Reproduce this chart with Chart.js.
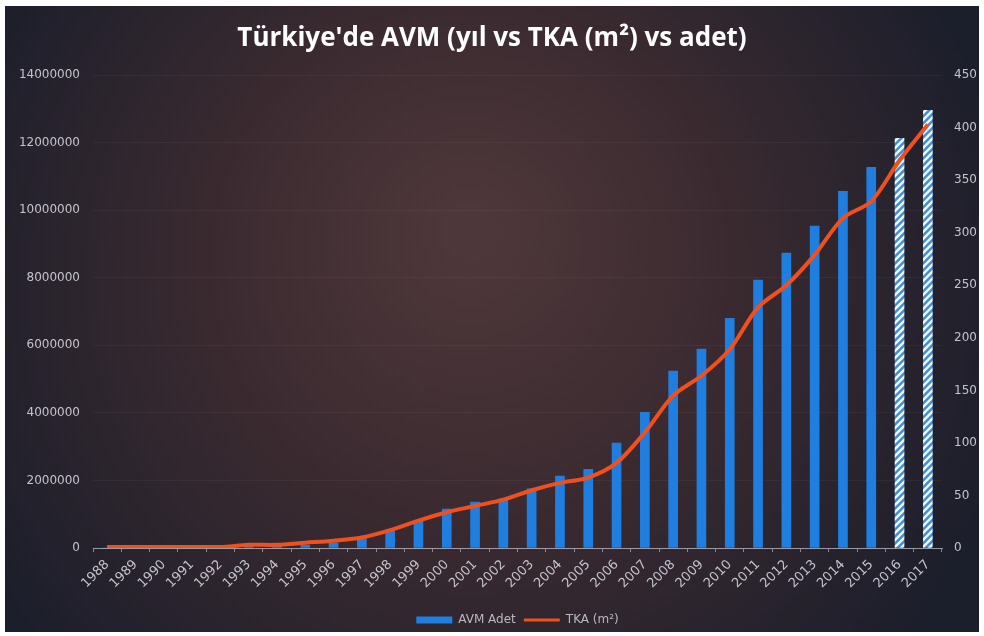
<!DOCTYPE html>
<html lang="tr">
<head>
  <meta charset="UTF-8">
  <title>Türkiye'de AVM</title>
  <script src="https://cdn.jsdelivr.net/npm/chart.js"></script>
  <style>
    html, body {
      margin: 0;
      padding: 0;
      background: #ffffff;
    }
    #wrap {
      width: 984px;
      height: 636px;
    }
  </style>
</head>
<body>

<div id="wrap">
  <canvas id="avmChart" width="984" height="636"></canvas>
</div>

<script>
const years = ["1988", "1989", "1990", "1991", "1992", "1993", "1994", "1995", "1996", "1997",
  "1998", "1999", "2000", "2001", "2002", "2003", "2004", "2005", "2006", "2007",
  "2008", "2009", "2010", "2011", "2012", "2013", "2014", "2015", "2016", "2017"];

// bars, left axis
const avmAdet = [0, 0, 0, 0, 10000, 60000, 80000, 90000, 150000, 330000,
  500000, 830000, 1150000, 1360000, 1450000, 1750000, 2130000, 2330000, 3110000, 4020000,
  5240000, 5890000, 6800000, 7930000, 8730000, 9530000, 10560000, 11270000, 12130000, 12960000];

// line, right axis
const tka = [1, 1, 1, 1, 1, 3, 3, 5, 7, 10,
  17, 26, 34, 40, 46, 55, 62, 67, 81, 110,
  145, 164, 189, 229, 250, 279, 314, 330, 369, 403];

const leftTicks = [0, 2000000, 4000000, 6000000, 8000000, 10000000, 12000000, 14000000];
const rightTicks = [0, 50, 100, 150, 200, 250, 300, 350, 400, 450];

// hatched fill for the last two years
function hatch() {
  const c = document.createElement("canvas");
  c.width = 7;
  c.height = 7;
  const g = c.getContext("2d");
  g.fillStyle = "#3d8fdc";
  g.fillRect(0, 0, 7, 7);
  g.strokeStyle = "#f2f6fa";
  g.lineWidth = 2.5;
  g.beginPath();
  g.moveTo(-1, 8); g.lineTo(8, -1);
  g.moveTo(-4, 4); g.lineTo(4, -4);
  g.moveTo(3, 11); g.lineTo(11, 3);
  g.stroke();
  return g.createPattern(c, "repeat");
}
const stripes = hatch();
const barColors = years.map((y, i) => i >= years.length - 2 ? stripes : "#1f7fe0");

const panel = {
  id: "panel",
  beforeDraw(chart) {
    const ctx = chart.ctx;
    ctx.save();
    ctx.fillStyle = "#ffffff";
    ctx.fillRect(0, 0, chart.width, chart.height);
    const grd = ctx.createRadialGradient(470, 230, 20, 470, 300, 560);
    grd.addColorStop(0, "#4e373a");
    grd.addColorStop(0.45, "#3a2a30");
    grd.addColorStop(1, "#1b1e2b");
    ctx.fillStyle = grd;
    ctx.fillRect(5, 6, chart.width - 10, chart.height - 10);
    ctx.restore();
  }
};

const tickFont = { family: "DejaVu Sans", size: 12 };

new Chart(document.getElementById("avmChart"), {
  data: {
    labels: years,
    datasets: [
      {
        type: "line",
        label: "TKA (m²)",
        data: tka,
        yAxisID: "yR",
        borderColor: "#f0501e",
        backgroundColor: "#f0501e",
        borderWidth: 4,
        pointRadius: 0,
        tension: 0.3,
        order: 0
      },
      {
        type: "bar",
        label: "AVM Adet",
        data: avmAdet,
        yAxisID: "yL",
        backgroundColor: barColors,
        barThickness: 9,
        order: 1
      }
    ]
  },
  plugins: [panel],
  options: {
    responsive: false,
    animation: false,
    layout: { padding: { left: 8, right: 8, top: 5, bottom: 0 } },
    plugins: {
      title: {
        display: true,
        text: "Türkiye'de AVM (yıl vs TKA (m²) vs adet)",
        color: "#ffffff",
        font: { family: "Open Sans", size: 26, weight: "bold" },
        padding: { top: 18, bottom: 21 }
      },
      legend: {
        position: "bottom",
        fullSize: false,
        reverse: true,
        labels: {
          color: "#b8b8c0",
          font: { family: "DejaVu Sans", size: 12 },
          usePointStyle: true,
          pointStyleWidth: 36,
          boxHeight: 7,
          padding: 8,
          generateLabels(chart) {
            const items = Chart.defaults.plugins.legend.labels.generateLabels(chart);
            items.forEach(it => {
              if (it.datasetIndex === 1) {
                it.pointStyle = "rect";
                it.fillStyle = "#1f7fe0";
                it.strokeStyle = "#1f7fe0";
                it.lineWidth = 0;
              } else {
                it.pointStyle = "line";
                it.lineWidth = 3;
              }
            });
            return items;
          }
        }
      },
      tooltip: { enabled: false }
    },
    scales: {
      x: {
        offset: true,
        grid: {
          display: true,
          drawOnChartArea: false,
          drawTicks: true,
          tickLength: 4,
          color: "rgba(200,200,210,0.6)",
          offset: true
        },
        border: { display: true, color: "rgba(200,200,210,0.7)", width: 1 },
        ticks: {
          color: "#c4c4cc",
          font: { family: "DejaVu Sans", size: 13 },
          minRotation: 45,
          maxRotation: 45,
          autoSkip: false,
          padding: 5
        },
        afterFit(scale) { scale.height = 58; }
      },
      yL: {
        position: "left",
        min: 0,
        max: 14000000,
        afterBuildTicks(scale) { scale.ticks = leftTicks.map(v => ({ value: v })); },
        grid: {
          color: "rgba(255,255,255,0.045)",
          drawTicks: false
        },
        border: { display: false },
        ticks: {
          color: "#c4c4cc",
          font: tickFont,
          padding: 13,
          callback: v => String(v)
        },
        afterFit(scale) { scale.width = 85; }
      },
      yR: {
        position: "right",
        min: 0,
        max: 450,
        afterBuildTicks(scale) { scale.ticks = rightTicks.map(v => ({ value: v })); },
        grid: { display: false, drawTicks: false },
        border: { display: false },
        ticks: {
          color: "#c4c4cc",
          font: tickFont,
          padding: 12,
          callback: v => String(v)
        },
        afterFit(scale) { scale.width = 34; }
      }
    }
  }
});
</script>

</body>
</html>
